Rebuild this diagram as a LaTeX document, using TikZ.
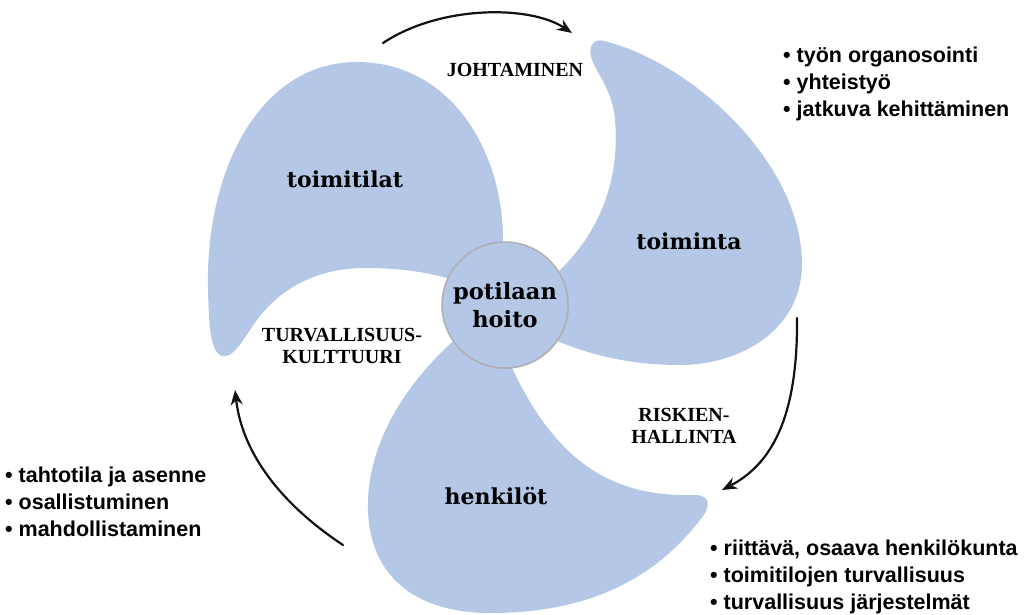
\documentclass[tikz,border=0pt]{standalone}
\usepackage{fontspec}
\setmainfont{DejaVu Serif}
\newfontfamily\capsfont{Liberation Serif}
\newfontfamily\listfont{Liberation Sans}
\usetikzlibrary{calc,arrows.meta,shadows}
\definecolor{BladeBlue}{HTML}{B4C7E7}
\definecolor{RimGray}{HTML}{B0B0B0}
\definecolor{InkBlack}{HTML}{111111}

\begin{document}
\begin{tikzpicture}[
  x=1pt, y=-1pt,
  line cap=round, line join=round,
  >=Stealth,
  hub/.style={circle, fill=BladeBlue, draw=RimGray, line width=1.5pt,
    minimum size=126pt, inner sep=0pt, align=center,
    font=\bfseries\fontsize{22.5}{28}\selectfont,
    drop shadow={opacity=0.35, shadow xshift=0.8pt, shadow yshift=-0.8pt}},
  part/.style={font=\bfseries\fontsize{22}{26}\selectfont, anchor=base},
  phase/.style={font=\capsfont\bfseries\fontsize{20}{21.5}\selectfont, align=center},
  item/.style={font=\listfont\bfseries\fontsize{21.5}{27}\selectfont, anchor=base west, inner sep=0pt},
  turn/.style={-{Stealth[length=15pt,width=12pt]}, line width=2.2pt, InkBlack}
]

% Frame of the picture
\useasboundingbox (0,0) rectangle (1027,614);

% === Three blades round the hub ===
% toimitilat (upper left)
\fill[BladeBlue] (505,300) -- (503,240)
  .. controls (503,150) and (450,62) .. (357,62)
  .. controls (260,62) and (205,170) .. (208,290)
  .. controls (209,325) and (210,352) .. (222,356)
  .. controls (232,358) and (240,345) .. (250,330)
  .. controls (275,290) and (315,268) .. (365,268)
  .. controls (400,268) and (430,272) .. (460,282) -- cycle;

% toiminta (right)
\fill[BladeBlue] (505,300) -- (558,272)
  .. controls (600,232) and (620,180) .. (615,120)
  .. controls (612,82) and (586,64) .. (591,47)
  .. controls (593,41) and (598,39) .. (604,41)
  .. controls (690,62) and (800,160) .. (802,262)
  .. controls (803,330) and (740,365) .. (680,365)
  .. controls (630,365) and (590,355) .. (555,340) -- cycle;

% henkilot (bottom)
\fill[BladeBlue] (505,300) -- (452,342)
  .. controls (400,390) and (366,450) .. (368,510)
  .. controls (370,580) and (420,613) .. (490,613)
  .. controls (590,613) and (655,578) .. (700,520)
  .. controls (712,506) and (710,495) .. (695,495)
  .. controls (620,497) and (560,470) .. (512,368) -- cycle;

% === Hub ===
\node[hub] (core) at (505,305) {potilaan\\hoito};

% Blade labels
\node[part] (tilat) at (345,187) {toimitilat};
\node[part] (toiminta) at (689,249) {toiminta};
\node[part] (henkilot) at (496,504) {henkilöt};

% Phase labels between the blades
\node[phase] (johto) at (515,70) {JOHTAMINEN};
\node[phase] (riski) at (684,426) {RISKIEN-\\HALLINTA};
\node[phase] (kulttuuri) at (342,346) {TURVALLISUUS-\\KULTTUURI};

% === Turning arrows ===
\coordinate (lead0) at (383,43);  \coordinate (lead1) at (572,33);
\coordinate (risk0) at (797,318); \coordinate (risk1) at (722,490);
\coordinate (cult0) at (343,545); \coordinate (cult1) at (235,390);
\draw[turn] (lead0) .. controls (440,5) and (530,5) .. (lead1);
\draw[turn] (risk0) .. controls (798,420) and (770,465) .. (risk1);
\draw[turn] (cult0) .. controls (290,510) and (243,460) .. (cult1);

% === Bullet lists ===
\foreach \txt [count=\i] in {työn organosointi, yhteistyö, jatkuva kehittäminen}
  \node[item] (lead\i) at (783,{35+27*\i}) {• \txt};
\foreach \txt [count=\i] in {tahtotila ja asenne, osallistuminen, mahdollistaminen}
  \node[item] (cult\i) at (5,{455+27*\i}) {• \txt};
\foreach \txt [count=\i] in {{riittävä, osaava henkilökunta}, toimitilojen turvallisuus, turvallisuus järjestelmät}
  \node[item] (risk\i) at (710,{528+27*\i}) {• \txt};

\end{tikzpicture}
\end{document}
